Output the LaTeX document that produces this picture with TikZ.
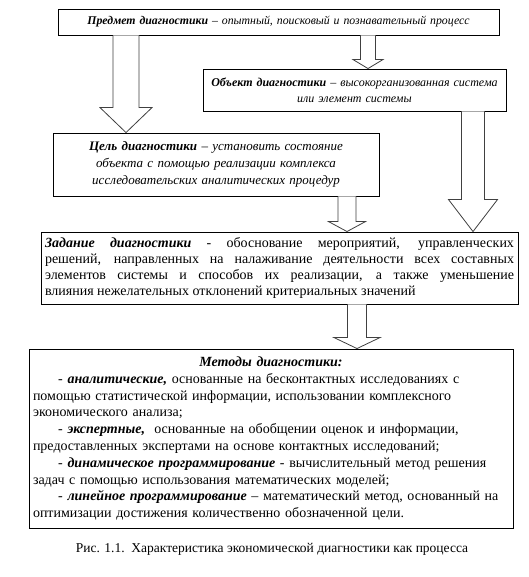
\documentclass[tikz,border=0pt]{standalone}
\usepackage{fontspec}
\setmainfont{Liberation Serif}
\usetikzlibrary{calc}
\tikzset{
  box/.style={draw=black, line width=0.9pt, fill=white, inner xsep=4pt, inner ysep=2pt, anchor=center},
  blockarrow/.style={draw=black!75, line width=0.8pt, fill=white, line join=miter},
}
\newcommand{\blockarr}[6]{%
  \coordinate (ba-s) at (#3,0 |- #1.south);
  \coordinate (ba-t) at (#3,0 |- #2.north);
  \draw[blockarrow] ($(ba-s)+(-#4,0)$) -- ($(ba-t)+(-#4,-#6)$) -- ($(ba-t)+(-#5,-#6)$) -- (ba-t)
     -- ($(ba-t)+(#5,-#6)$) -- ($(ba-t)+(#4,-#6)$) -- ($(ba-s)+(#4,0)$);
}
\begin{document}
\begin{tikzpicture}[x=1pt,y=-1pt]
\useasboundingbox (0,0) rectangle (528,577);
\fill[white] (0,0) rectangle (528,577);

\node[box, minimum width=441pt, minimum height=26pt, text width=433pt, align=center,
  font=\fontsize{11.8}{15}\selectfont\itshape] (pred) at (278.5,22)
  {\textbf{Предмет диагностики} – опытный, поисковый и познавательный процесс};

\node[box, minimum width=303pt, minimum height=42pt, text width=295pt, align=center,
  font=\fontsize{12}{16}\selectfont\itshape] (obj) at (354.5,90)
  {\textbf{Объект диагностики} – высокорганизованная система\\или элемент системы};

\node[box, minimum width=326pt, minimum height=63pt, text width=318pt, align=center,
  font=\fontsize{13}{17}\selectfont\itshape] (cel) at (216,164.5)
  {\textbf{Цель диагностики} – установить состояние\\объекта с помощью реализации комплекса\\исследовательских аналитических процедур};

\node[box, minimum width=477pt, minimum height=72pt, text width=469pt, align=justify,
  font=\fontsize{14}{16}\selectfont] (zad) at (279.5,268)
  {\textbf{\textit{Задание диагностики}} - обоснование мероприятий, управленческих\linebreak
   решений, направленных на налаживание деятельности всех составных\linebreak
   элементов системы и способов их реализации, а также уменьшение\linebreak
   влияния нежелательных отклонений критериальных значений};

\node[box, minimum width=484pt, minimum height=179pt, text width=476pt, align=left,
  font=\fontsize{14}{16.8}\selectfont] (met) at (271,438.5)
  {\makebox[\linewidth][c]{\textbf{\textit{Методы диагностики:}}}\\
   \hspace*{1.8em}- \textbf{\textit{аналитические,}} основанные на бесконтактных исследованиях с\\
   помощью статистической информации, использовании комплексного\\
   экономического анализа;\\
   \hspace*{1.8em}- \textbf{\textit{экспертные,}}\ \ основанные на обобщении оценок и информации,\\
   предоставленных экспертами на основе контактных исследований;\\
   \hspace*{1.8em}- \textbf{\textit{динамическое программирование}} - вычислительный метод решения\\
   задач с помощью использования математических моделей;\\
   \hspace*{1.8em}- \textbf{\textit{линейное программирование}} – математический метод, основанный на\\
   оптимизации достижения количественно обозначенной цели.};

\node[font=\fontsize{13.5}{16}\selectfont, anchor=center] (cap) at (272,549)
  {Рис. 1.1.\ \ Характеристика экономической диагностики как процесса};

\blockarr{pred}{cel}{126}{13}{26}{25}
\blockarr{pred}{obj}{368}{7.5}{15}{9}
\blockarr{obj}{zad}{473}{11.5}{24.5}{32}
\blockarr{cel}{zad}{347}{9}{18.5}{10}
\blockarr{zad}{met}{357}{9.5}{23}{11}
\end{tikzpicture}
\end{document}
